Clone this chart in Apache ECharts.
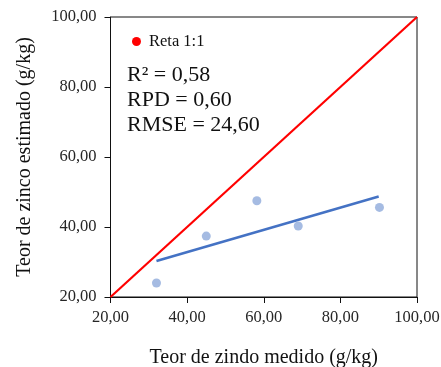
<!DOCTYPE html>
<html>
<head>
<meta charset="utf-8">
<script src="https://cdn.jsdelivr.net/npm/echarts@6/dist/echarts.min.js"></script>
<style>
  html, body { margin: 0; padding: 0; background: #fff; }
  #chart { width: 441px; height: 367px; }
</style>
</head>
<body>
<div id="chart"></div>
<script>
// Measured vs. estimated zinc content (g/kg)
const medido = [32, 45, 58.2, 69, 90.2];
const estimado = [24, 37.4, 47.5, 40.3, 45.6];
// Fitted trend line end points
const tendenciaX = [32, 90];
const tendenciaY = [30.3, 48.7];
// 1:1 reference line
const retaX = [20, 100];
const retaY = [20, 100];
const estatisticas = ['R² = 0,58', 'RPD = 0,60', 'RMSE = 24,60'];

const fmt = v => v.toFixed(2).replace('.', ',');
const serif = 'Liberation Serif, Times New Roman, serif';
const axisColor = '#111';

const chart = echarts.init(document.getElementById('chart'));
chart.setOption({
  animation: false,
  backgroundColor: '#fff',
  textStyle: { fontFamily: serif },
  grid: {
    left: 110.5, right: 24, top: 17, bottom: 70,
    outerBoundsMode: 'none', containLabel: false,
    show: true, borderColor: axisColor, borderWidth: 1
  },
  legend: {
    data: [{ name: 'Reta 1:1', icon: 'circle' }],
    left: 132, top: 33,
    itemWidth: 9, itemHeight: 9, itemGap: 6, padding: 0,
    textStyle: { fontFamily: serif, fontSize: 16.5, color: '#111', padding: [0, 0, 0, 3] }
  },
  xAxis: {
    type: 'value', min: 20, max: 100, interval: 20,
    name: 'Teor de zindo medido (g/kg)',
    nameLocation: 'middle', nameGap: 51,
    nameTextStyle: { fontFamily: serif, fontSize: 20, color: '#111' },
    axisLine: { lineStyle: { color: axisColor, width: 1 } },
    axisTick: { show: true, length: 6, lineStyle: { color: axisColor } },
    axisLabel: { formatter: fmt, fontFamily: serif, fontSize: 16.5, color: '#262626', margin: 12 },
    splitLine: { show: false }
  },
  yAxis: {
    type: 'value', min: 20, max: 100, interval: 20,
    name: 'Teor de zinco estimado (g/kg)',
    nameLocation: 'middle', nameGap: 76,
    nameTextStyle: { fontFamily: serif, fontSize: 20, color: '#111' },
    axisLine: { show: true, lineStyle: { color: axisColor, width: 1 } },
    axisTick: { show: true, length: 6, lineStyle: { color: axisColor } },
    axisLabel: { formatter: fmt, fontFamily: serif, fontSize: 16.5, color: '#262626', margin: 14 },
    splitLine: { show: false }
  },
  graphic: estatisticas.map((t, i) => ({
    type: 'text',
    left: 127, top: 64 + i * 25,
    style: { text: t, font: '22px ' + serif, fill: '#111' },
    silent: true
  })),
  series: [
    {
      name: 'Reta 1:1',
      type: 'line',
      data: retaX.map((x, i) => [x, retaY[i]]),
      symbol: 'none',
      lineStyle: { color: '#ff0000', width: 2.2 },
      itemStyle: { color: '#ff0000' },
      z: 3
    },
    {
      name: 'Tendência',
      type: 'line',
      data: tendenciaX.map((x, i) => [x, tendenciaY[i]]),
      symbol: 'none',
      lineStyle: { color: '#4472c4', width: 2.5 },
      z: 2
    },
    {
      name: 'Amostras',
      type: 'scatter',
      data: medido.map((x, i) => [x, estimado[i]]),
      symbolSize: 9,
      itemStyle: { color: '#8eaadb' },
      z: 4
    }
  ]
});
</script>
</body>
</html>
